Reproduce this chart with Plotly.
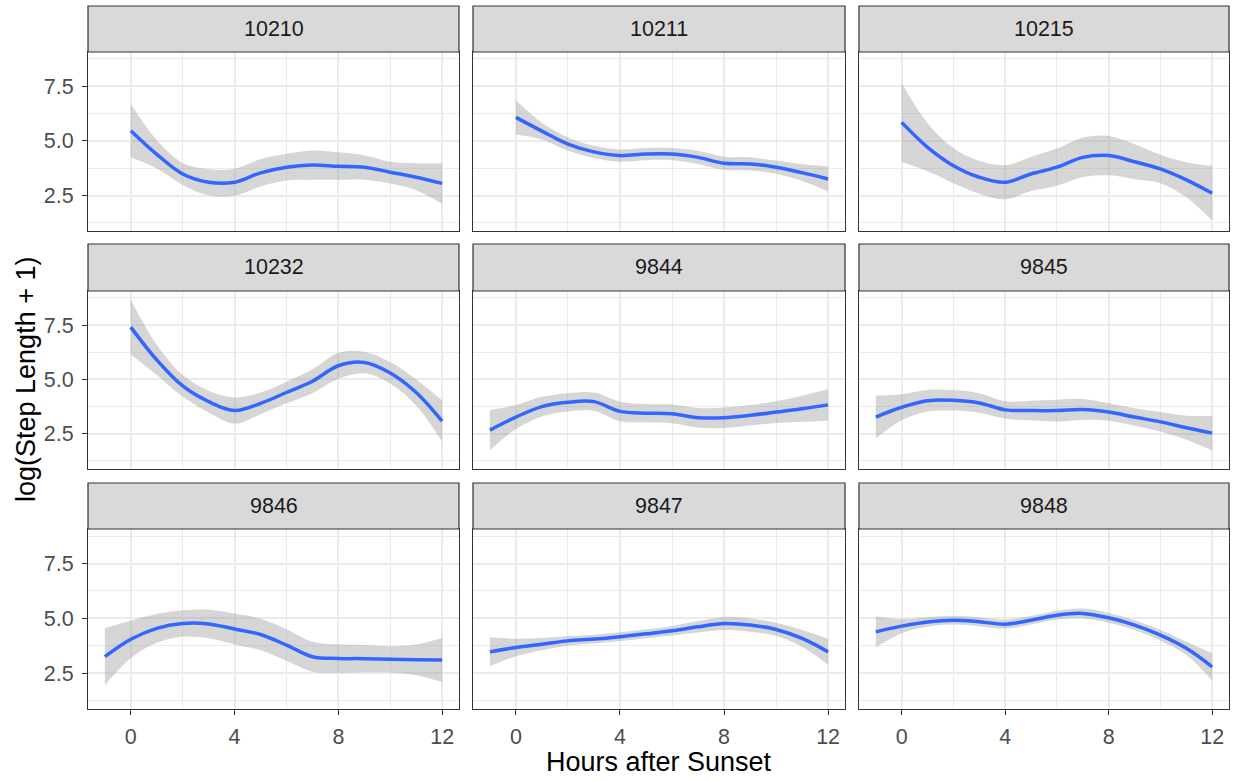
import plotly.graph_objects as go

W, H = 1233, 781

# ---------------- data ----------------
panels = ["10210", "10211", "10215", "10232", "9844", "9845", "9846", "9847", "9848"]
hours_from0 = [0, 1, 2, 3, 4, 5, 6, 7, 8, 9, 10, 11, 12]
hours_fromm1 = [-1, 0, 1, 2, 3, 4, 5, 6, 7, 8, 9, 10, 11, 12]

fit_10210 = [5.47, 4.39, 3.49, 3.11, 3.11, 3.54, 3.80, 3.90, 3.84, 3.80, 3.57, 3.34, 3.06]
lo_10210 = [4.25, 3.74, 2.99, 2.51, 2.49, 2.92, 3.19, 3.22, 3.22, 3.22, 3.05, 2.75, 2.12]
hi_10210 = [6.69, 5.04, 3.99, 3.71, 3.73, 4.16, 4.41, 4.56, 4.48, 4.35, 4.05, 3.98, 3.98]

fit_10211 = [6.08, 5.45, 4.86, 4.50, 4.33, 4.40, 4.40, 4.25, 3.98, 3.95, 3.80, 3.55, 3.26]
lo_10211 = [5.30, 5.07, 4.56, 4.22, 4.05, 4.12, 4.12, 3.95, 3.68, 3.65, 3.50, 3.17, 2.69]
hi_10211 = [6.86, 5.83, 5.16, 4.78, 4.61, 4.68, 4.68, 4.55, 4.28, 4.25, 4.10, 3.93, 3.83]

fit_10215 = [5.85, 4.71, 3.87, 3.34, 3.11, 3.49, 3.80, 4.25, 4.33, 4.05, 3.72, 3.22, 2.61]
lo_10215 = [4.05, 3.61, 3.07, 2.59, 2.33, 2.71, 2.95, 3.35, 3.43, 3.25, 3.07, 2.42, 1.36]
hi_10215 = [7.65, 5.81, 4.67, 4.09, 3.89, 4.27, 4.65, 5.15, 5.23, 4.85, 4.37, 4.02, 3.86]

fit_10232 = [7.41, 5.90, 4.70, 3.98, 3.57, 3.90, 4.40, 4.92, 5.63, 5.78, 5.30, 4.40, 3.08]
lo_10232 = [6.16, 5.20, 4.20, 3.48, 2.97, 3.40, 3.90, 4.37, 5.03, 5.28, 4.80, 3.80, 2.13]
hi_10232 = [8.66, 6.60, 5.20, 4.48, 4.17, 4.40, 4.90, 5.47, 6.23, 6.28, 5.80, 5.00, 4.03]

fit_9844 = [2.67, 3.27, 3.75, 3.95, 3.98, 3.53, 3.45, 3.42, 3.24, 3.24, 3.35, 3.50, 3.65, 3.83]
lo_9844 = [1.74, 2.72, 3.30, 3.53, 3.56, 3.08, 3.03, 2.99, 2.79, 2.77, 2.88, 3.00, 3.05, 3.10]
hi_9844 = [3.60, 3.82, 4.20, 4.37, 4.40, 3.98, 3.87, 3.85, 3.69, 3.71, 3.82, 4.00, 4.25, 4.56]

fit_9845 = [3.27, 3.72, 4.02, 4.04, 3.92, 3.60, 3.57, 3.57, 3.62, 3.50, 3.27, 3.05, 2.78, 2.53]
lo_9845 = [2.29, 3.12, 3.52, 3.57, 3.47, 3.20, 3.12, 3.07, 3.14, 3.10, 2.87, 2.60, 2.23, 1.73]
hi_9845 = [4.25, 4.32, 4.52, 4.51, 4.37, 4.00, 4.02, 4.07, 4.10, 3.90, 3.67, 3.50, 3.33, 3.33]

fit_9846 = [3.26, 4.05, 4.55, 4.77, 4.75, 4.52, 4.27, 3.79, 3.26, 3.18, 3.17, 3.14, 3.12, 3.11]
lo_9846 = [1.96, 3.20, 3.90, 4.17, 4.10, 3.82, 3.55, 3.07, 2.58, 2.53, 2.55, 2.54, 2.42, 2.11]
hi_9846 = [4.56, 4.90, 5.20, 5.37, 5.40, 5.22, 4.99, 4.51, 3.94, 3.83, 3.79, 3.74, 3.82, 4.11]

fit_9847 = [3.48, 3.68, 3.83, 3.98, 4.06, 4.17, 4.30, 4.44, 4.62, 4.77, 4.70, 4.50, 4.09, 3.48]
lo_9847 = [2.82, 3.28, 3.55, 3.76, 3.86, 3.97, 4.10, 4.22, 4.36, 4.47, 4.40, 4.20, 3.71, 2.88]
hi_9847 = [4.14, 4.08, 4.11, 4.20, 4.26, 4.37, 4.50, 4.66, 4.88, 5.07, 5.00, 4.80, 4.47, 4.08]

fit_9848 = [4.39, 4.65, 4.84, 4.92, 4.85, 4.74, 4.92, 5.15, 5.23, 5.03, 4.70, 4.24, 3.64, 2.80]
lo_9848 = [3.69, 4.33, 4.62, 4.72, 4.65, 4.54, 4.72, 4.95, 5.01, 4.81, 4.48, 3.99, 3.34, 2.18]
hi_9848 = [5.09, 4.97, 5.06, 5.12, 5.05, 4.94, 5.12, 5.35, 5.45, 5.25, 4.92, 4.49, 3.94, 3.42]

x_ticks = [0, 4, 8, 12]
y_ticks = [2.5, 5.0, 7.5]
y_tick_text = ["2.5", "5.0", "7.5"]

series = {
    "10210": (hours_from0, fit_10210, lo_10210, hi_10210),
    "10211": (hours_from0, fit_10211, lo_10211, hi_10211),
    "10215": (hours_from0, fit_10215, lo_10215, hi_10215),
    "10232": (hours_from0, fit_10232, lo_10232, hi_10232),
    "9844": (hours_fromm1, fit_9844, lo_9844, hi_9844),
    "9845": (hours_fromm1, fit_9845, lo_9845, hi_9845),
    "9846": (hours_fromm1, fit_9846, lo_9846, hi_9846),
    "9847": (hours_fromm1, fit_9847, lo_9847, hi_9847),
    "9848": (hours_fromm1, fit_9848, lo_9848, hi_9848),
}

# ---------------- layout geometry (pixels) ----------------
col_px = [(88, 459), (473, 845), (859, 1229)]
row_px = [(52, 231), (291, 469), (529, 709)]
strip_px = [(6, 52), (244, 291), (483, 529)]

FONT = "Liberation Sans, Arial, Helvetica, sans-serif"
TICK_SIZE = 21.5
TITLE_SIZE = 27
GRID = "#EBEBEB"
BORDER = "#333333"

fig = go.Figure()
layout = dict(
    width=W, height=H, autosize=False,
    margin=dict(l=0, r=0, t=0, b=0),
    paper_bgcolor="white", plot_bgcolor="white",
    showlegend=False,
    font=dict(family=FONT, color="#4D4D4D", size=TICK_SIZE),
)

shapes = []
annotations = []

for i, name in enumerate(panels):
    r, c = divmod(i, 3)
    idx = i + 1
    xs, fit, lo, hi = series[name]
    xa = "x" if idx == 1 else f"x{idx}"
    ya = "y" if idx == 1 else f"y{idx}"

    fig.add_trace(go.Scatter(x=xs, y=lo, xaxis=xa, yaxis=ya, mode="lines",
                             line=dict(width=0, shape="spline", smoothing=1),
                             hoverinfo="skip"))
    fig.add_trace(go.Scatter(x=xs, y=hi, xaxis=xa, yaxis=ya, mode="lines",
                             line=dict(width=0, shape="spline", smoothing=1),
                             fill="tonexty", fillcolor="rgba(153,153,153,0.4)",
                             hoverinfo="skip"))
    fig.add_trace(go.Scatter(x=xs, y=fit, xaxis=xa, yaxis=ya, mode="lines",
                             line=dict(color="#3366FF", width=3.5, shape="spline", smoothing=1)))

    x0, x1 = col_px[c]
    y0, y1 = row_px[r]
    xkey = "xaxis" if idx == 1 else f"xaxis{idx}"
    ykey = "yaxis" if idx == 1 else f"yaxis{idx}"
    bottom = (r == 2)
    left = (c == 0)
    layout[xkey] = dict(
        domain=[x0 / W, x1 / W], anchor=ya, range=[-1.65, 12.65],
        tickmode="array", tickvals=x_ticks, ticktext=[str(v) for v in x_ticks],
        showticklabels=bottom, ticks="outside" if bottom else "",
        ticklen=5, tickwidth=1.2, tickcolor=BORDER, ticklabelstandoff=3,
        showgrid=True, gridcolor=GRID, gridwidth=1.5, zeroline=False,
        minor=dict(tickmode="array", tickvals=[2, 6, 10], showgrid=True,
                   gridcolor=GRID, gridwidth=1, ticks=""),
        showline=True, mirror=True, linecolor=BORDER, linewidth=1.2,
        tickfont=dict(family=FONT, size=TICK_SIZE, color="#4D4D4D"),
        fixedrange=True,
    )
    layout[ykey] = dict(
        domain=[1 - y1 / H, 1 - y0 / H], anchor=xa, range=[0.88, 9.07],
        tickmode="array", tickvals=y_ticks, ticktext=y_tick_text,
        showticklabels=left, ticks="outside" if left else "",
        ticklen=5, tickwidth=1.2, tickcolor=BORDER, ticklabelstandoff=4,
        showgrid=True, gridcolor=GRID, gridwidth=1.5, zeroline=False,
        minor=dict(tickmode="array", tickvals=[1.25, 3.75, 6.25, 8.75], showgrid=True,
                   gridcolor=GRID, gridwidth=1, ticks=""),
        showline=True, mirror=True, linecolor=BORDER, linewidth=1.2,
        tickfont=dict(family=FONT, size=TICK_SIZE, color="#4D4D4D"),
        fixedrange=True,
    )

    sy0, sy1 = strip_px[r]
    shapes.append(dict(type="rect", xref="paper", yref="paper",
                       x0=x0 / W, x1=x1 / W, y0=1 - sy1 / H, y1=1 - sy0 / H,
                       fillcolor="#D9D9D9", line=dict(color=BORDER, width=1.2),
                       layer="above"))
    annotations.append(dict(text=name, xref="paper", yref="paper",
                            x=(x0 + x1) / 2 / W, y=1 - (sy0 + sy1) / 2 / H,
                            xanchor="center", yanchor="middle", showarrow=False,
                            font=dict(family=FONT, size=TICK_SIZE, color="#1A1A1A")))

annotations.append(dict(text="Hours after Sunset", xref="paper", yref="paper",
                        x=(88 + 1229) / 2 / W, y=1 - 762 / H,
                        xanchor="center", yanchor="middle", showarrow=False,
                        font=dict(family=FONT, size=TITLE_SIZE, color="black")))
annotations.append(dict(text="log(Step Length + 1)", xref="paper", yref="paper",
                        x=26 / W, y=1 - 380 / H, textangle=-90,
                        xanchor="center", yanchor="middle", showarrow=False,
                        font=dict(family=FONT, size=TITLE_SIZE, color="black")))

layout["shapes"] = shapes
layout["annotations"] = annotations
fig.update_layout(**layout)

fig.write_html("out.html", config={"displayModeBar": False})
